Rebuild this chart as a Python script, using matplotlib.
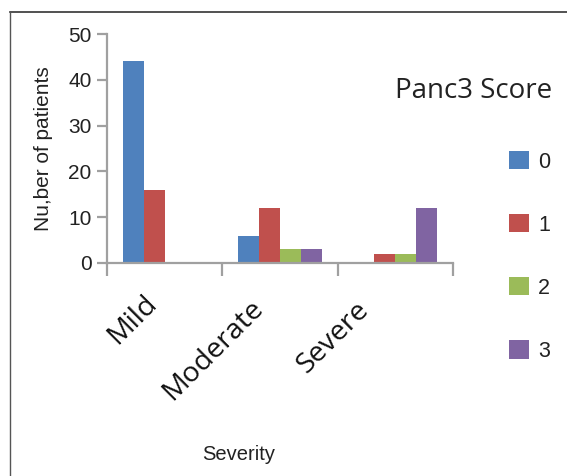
import numpy as np
import matplotlib
matplotlib.use('Agg')
import matplotlib.pyplot as plt
from matplotlib.lines import Line2D
from matplotlib.transforms import ScaledTranslation

# Datos
severity = ['Mild', 'Moderate', 'Severe']
scores = ['0', '1', '2', '3']
score0 = [44, 6, 0]
score1 = [16, 12, 2]
score2 = [0, 3, 2]
score3 = [0, 3, 12]
counts = [score0, score1, score2, score3]
yticks = [0, 10, 20, 30, 40, 50]

colors = ['#4F81BD', '#C0504D', '#9BBB59', '#8064A2']
spine_col = '#a0a0a0'

W, H = 567, 476
fig = plt.figure(figsize=(W / 100, H / 100), dpi=100)
ax = fig.add_axes([107 / W, 1 - 263 / H, 346 / W, 229 / H])

# Barras agrupadas
bw = 1 / 5.5
side = (1 - 4 * bw) / 2
x = np.arange(len(severity))
for i, vals in enumerate(counts):
    ax.bar(x + side + i * bw, vals, width=bw, align='edge',
           color=colors[i], linewidth=0, label=scores[i])

ax.set_xlim(0, len(severity))
ax.set_ylim(0, 50)
ax.set_yticks(yticks)
ax.set_xticks(np.arange(len(severity) + 1))
ax.set_xticklabels([])

for s in ['top', 'right']:
    ax.spines[s].set_visible(False)
for s in ['left', 'bottom']:
    ax.spines[s].set_color(spine_col)
    ax.spines[s].set_linewidth(1.6)
ax.tick_params(axis='y', direction='out', length=7, width=1.6, color=spine_col,
               labelsize=15, pad=4, labelcolor='#222222')
ax.tick_params(axis='x', direction='out', length=9, width=1.6, color=spine_col)
for lab in ax.get_yticklabels():
    lab.set_family('Liberation Sans')

# Etiquetas de categoría rotadas
label_dx = [-2, -11, -21]
label_dy = [-26, -31, -33]
for i, name in enumerate(severity):
    off = ScaledTranslation(label_dx[i] / 100, label_dy[i] / 100, fig.dpi_scale_trans)
    ax.text(x[i] + 0.5, 0, name, transform=ax.transData + off,
            rotation=45, ha='right', va='top', fontsize=20.5,
            family='Open Sans', color='#111111')

ax.set_ylabel('Nu,ber of patients', fontsize=15, family='Liberation Sans',
              color='#222222')
ax.yaxis.set_label_coords(-54 / 346, 0.5)

fig.text(239 / W, 1 - 455 / H, 'Severity', ha='center', va='center',
         fontsize=14.5, family='Liberation Sans', color='#222222')
fig.text(395 / W, 1 - 91 / H, 'Panc3 Score', ha='left', va='center',
         fontsize=20, family='Open Sans', color='#222222')

# Leyenda
leg = fig.legend(loc='upper left', bbox_to_anchor=(509 / W, 1 - 151 / H),
                 frameon=False, fontsize=15.5, handlelength=0.93,
                 handleheight=0.93, handletextpad=0.42, labelspacing=1.93,
                 borderpad=0, borderaxespad=0)
for t in leg.get_texts():
    t.set_family('Liberation Sans')
    t.set_color('#222222')

# Marco
fig.add_artist(Line2D([10 / W, 1], [1 - 12 / H, 1 - 12 / H], color='#333333', lw=1.2))
fig.add_artist(Line2D([10 / W, 10 / W], [0, 1 - 12 / H], color='#555555', lw=1.0))

fig.savefig('out.png', dpi=100)
